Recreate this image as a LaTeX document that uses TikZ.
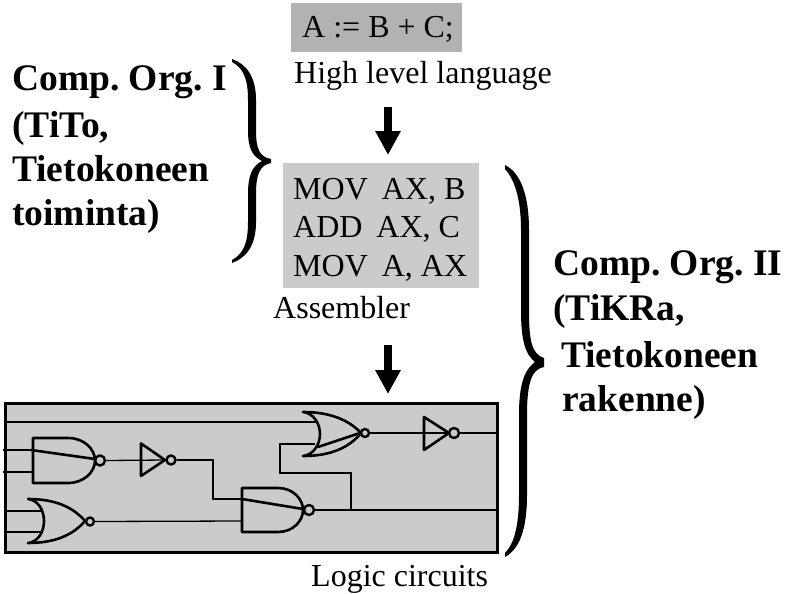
\documentclass[tikz,border=0pt]{standalone}
\usepackage{fontspec}
\setmainfont{Liberation Serif}
\usetikzlibrary{arrows.meta}
\definecolor{boxa}{HTML}{B2B2B2}
\definecolor{boxb}{HTML}{CBCBCB}
\tikzset{
  norm/.style={anchor=base west,inner sep=0pt,font=\fontsize{32}{32}\selectfont\frenchspacing},
  bold/.style={anchor=base west,inner sep=0pt,font=\fontsize{37.5}{37.5}\selectfont\bfseries\frenchspacing},
  wire/.style={line width=1.3pt,line join=miter},
  gate/.style={line width=2.6pt,line join=round,line cap=round},
  bubble/.style={circle,draw,line width=2.4pt,inner sep=0pt,minimum size=#1,fill=boxb},
  bigarrow/.style={line width=8pt,-{Triangle[width=24pt,length=24pt]},shorten >=0pt},
  panel/.style={fill=boxb}
}
\begin{document}
\begin{tikzpicture}[x=1pt,y=-1pt]
\useasboundingbox (0,0) rectangle (787,594);
% code boxes
\fill[boxa] (291,3) rectangle (462,52);
\fill[boxb] (283,163) rectangle (479,288);
\node[norm] (hl) at (302,38) {A := B + C;};
\node[norm] (hllabel) at (294,83) {High level language};
\node[norm] (asm1) at (293,199) {MOV\hspace{14pt}AX, B};
\node[norm] (asm2) at (293,237) {ADD\hspace{14pt}AX, C};
\node[norm] (asm3) at (293,276) {MOV\hspace{14pt}A, AX};
\node[norm] (asmlabel) at (273,318) {Assembler};
\node[norm] (logiclabel) at (311,586) {Logic circuits};
% titles
\node[bold] (l1) at (12,91) {Comp. Org. I};
\node[bold] (l2) at (12,137) {(TiTo,};
\node[bold] (l3) at (12,181) {Tietokoneen};
\node[bold] (l4) at (12,225) {toiminta)};
\node[bold] (r1) at (553,275) {Comp. Org. II};
\node[bold] (r2) at (553,320) {(TiKRa,};
\node[bold] (r3) at (561,367) {Tietokoneen};
\node[bold] (r4) at (562,411) {rakenne)};
% arrows
\coordinate (a1s) at (388,107); \coordinate (a1e) at (388,155);
\coordinate (a2s) at (388,345); \coordinate (a2e) at (388,394);
\draw[bigarrow] (a1s) -- (a1e);
\draw[bigarrow] (a2s) -- (a2e);
% braces
\fill (232,59)
  .. controls (246,64) and (256,76) .. (256,100)
  -- (256,130) .. controls (256,150) and (260,157) .. (271,159)
  -- (271,163) .. controls (260,165) and (256,174) .. (256,194)
  -- (256,222) .. controls (256,246) and (246,258) .. (232,263)
  -- (232,260) .. controls (243,254) and (248,244) .. (248,222)
  -- (248,194) .. controls (248,176) and (252,166) .. (262,161)
  .. controls (252,156) and (248,148) .. (248,130)
  -- (248,100) .. controls (248,78) and (243,68) .. (232,62) -- cycle;
\fill (505,165)
  .. controls (521,173) and (529,196) .. (529,230)
  -- (529,310) .. controls (529,342) and (532,354) .. (544,358)
  -- (544,367) .. controls (532,369) and (527,382) .. (527,415)
  -- (527,495) .. controls (527,528) and (520,549) .. (505,557)
  -- (505,553) .. controls (514,544) and (519,526) .. (519,495)
  -- (519,415) .. controls (519,385) and (524,370) .. (535,362)
  .. controls (525,354) and (521,340) .. (521,310)
  -- (521,230) .. controls (521,200) and (515,180) .. (505,169) -- cycle;
% circuit panel
\fill[panel] (5,403) rectangle (497,552);
% anchors
\coordinate (panelL1) at (5,422);
\coordinate (inA1) at (3,450); \coordinate (inA2) at (3,472);
\coordinate (inB1) at (5,511); \coordinate (inB2) at (5,532);
\coordinate (nandA1) at (33,450); \coordinate (nandA2) at (33,472);
\coordinate (norB1) at (41,511); \coordinate (norB2) at (41,532);
\coordinate (nandAout) at (95,459);
\coordinate (nandC1) at (242,499); \coordinate (nandC2) at (242,521);
\coordinate (nandCout) at (303,509);
\coordinate (norD1) at (316,422); \coordinate (norD2) at (315,444);
\coordinate (panelR1) at (497,433); \coordinate (panelR2) at (497,510);
% gate bubbles
\node[bubble=10pt] (bA) at (100,460.5) {};
\node[bubble=9pt] (invAb) at (171,460) {};
\node[bubble=8pt] (bB) at (90,521.5) {};
\node[bubble=10pt] (bC) at (309,510) {};
\node[bubble=8pt] (bD) at (365,433) {};
\node[bubble=10pt] (invDb) at (454,433) {};
% wires
\draw[wire] (panelL1) -- (norD1);
\draw[wire] (inA1) -- (nandA1);
\draw[wire] (inA2) -- (nandA2);
\draw[wire] (inB1) -- (norB1);
\draw[wire] (inB2) -- (norB2);
\draw[wire] (bA.east) -- (invAb.west);
\draw[wire] (invAb.east) -- (213,460) -- (213,499) -- (nandC1);
\draw[wire] (bB.east) -- (nandC2);
\draw[wire] (bC.east) -- (panelR2);
\draw[wire] (351,510) -- (351,473) -- (280,473) -- (280,444) -- (norD2);
\draw[wire] (bD.east) -- (invDb.west);
\draw[wire] (invDb.east) -- (panelR1);
% gates
\draw[gate] (68,438) -- (33,438) -- (33,483) -- (68,483) .. controls (84,483) and (95,472) .. (95,460.5) .. controls (95,449) and (84,438) .. (68,438) -- cycle;
\draw[gate] (31,450) -- (nandAout);
\draw[gate] (141,443.5) -- (141,476) -- (165,460) -- cycle;
\draw[gate] (28,499) .. controls (38,500) and (44,510) .. (44,521) .. controls (44,532) and (38,542) .. (28,543) .. controls (55,543) and (73,535) .. (85,521) .. controls (73,507) and (55,499) .. (28,499) -- cycle;
\draw[gate] (278,488) -- (242,488) -- (242,532) -- (278,532) .. controls (293,532) and (303,521) .. (303,510) .. controls (303,499) and (293,488) .. (278,488) -- cycle;
\draw[gate] (nandC1) -- (nandCout);
\draw[gate] (303,412) .. controls (313,413) and (320,423) .. (320,434) .. controls (320,445) and (313,455) .. (303,456) .. controls (330,456) and (349,448) .. (361,433) .. controls (349,420) and (330,412) .. (303,412) -- cycle;
\draw[gate] (318,447) -- (360,433);
\draw[gate] (424,417) -- (424,450) -- (449,433) -- cycle;
\draw[line width=3pt] (5,403) rectangle (497,552);
\end{tikzpicture}
\end{document}
